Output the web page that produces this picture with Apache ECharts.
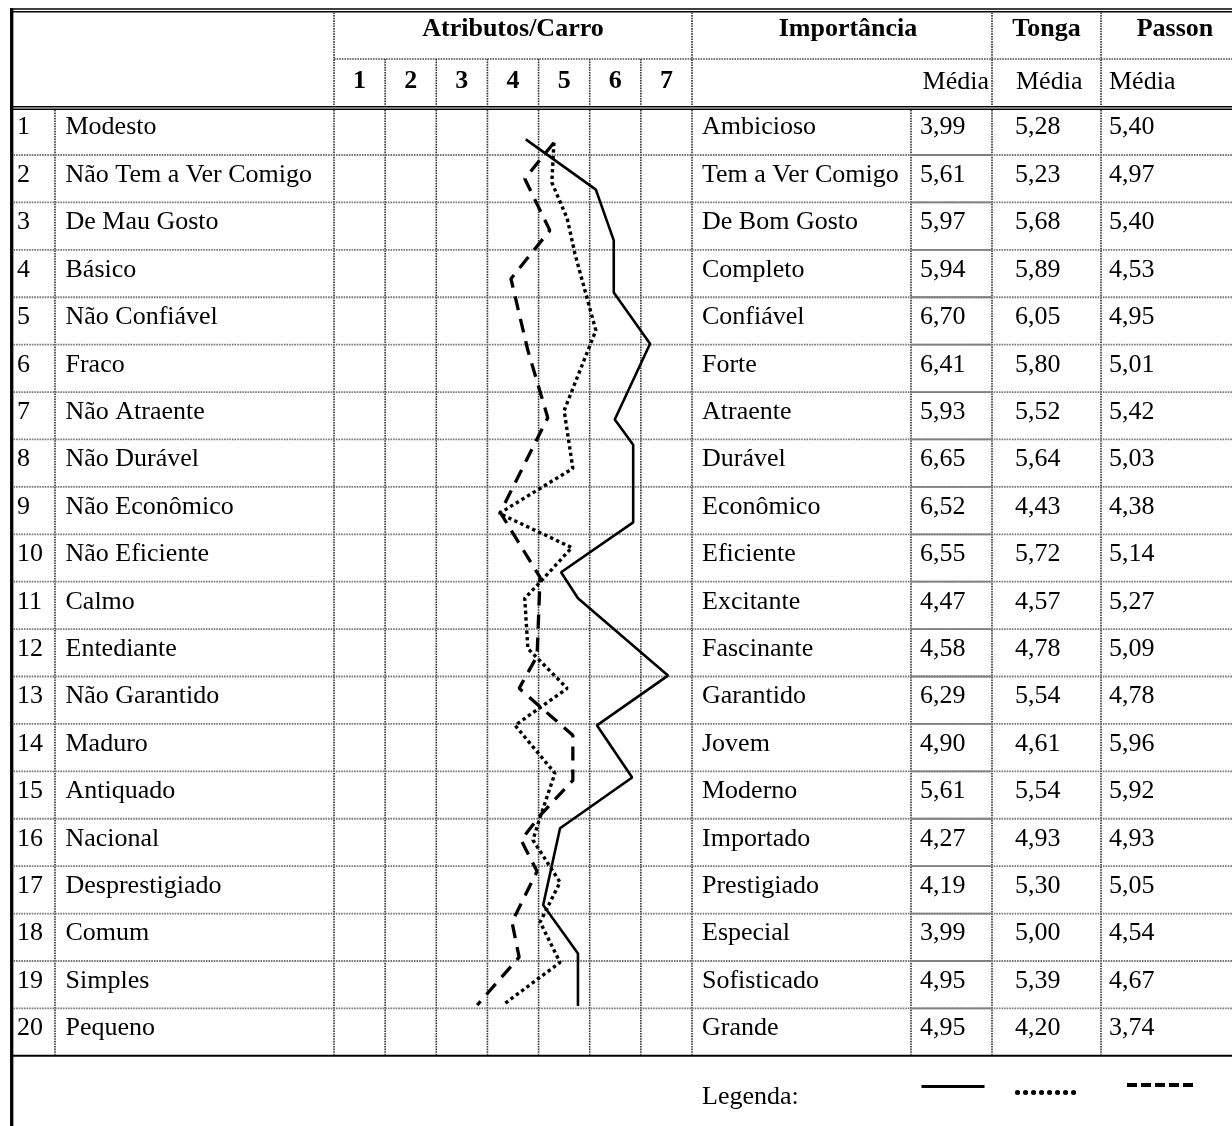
<!DOCTYPE html>
<html>
<head>
    <meta charset="utf-8">
    <title>Atributos/Carro</title>
    <script src="https://cdn.jsdelivr.net/npm/echarts@6/dist/echarts.min.js"></script>
    <style>
        html, body { margin: 0; padding: 0; background: #fff; }
        #chart { width: 1232px; height: 1126px; }
    </style>
</head>
<body>
    <div id="chart"></div>

    <script>
        // table data
        const rowNumbers = [1, 2, 3, 4, 5, 6, 7, 8, 9, 10, 11, 12, 13, 14, 15, 16, 17, 18, 19, 20];
        const leftAttrs = ['Modesto', 'Não Tem a Ver Comigo', 'De Mau Gosto', 'Básico', 'Não Confiável', 'Fraco',
            'Não Atraente', 'Não Durável', 'Não Econômico', 'Não Eficiente', 'Calmo', 'Entediante', 'Não Garantido',
            'Maduro', 'Antiquado', 'Nacional', 'Desprestigiado', 'Comum', 'Simples', 'Pequeno'];
        const rightAttrs = ['Ambicioso', 'Tem a Ver Comigo', 'De Bom Gosto', 'Completo', 'Confiável', 'Forte',
            'Atraente', 'Durável', 'Econômico', 'Eficiente', 'Excitante', 'Fascinante', 'Garantido',
            'Jovem', 'Moderno', 'Importado', 'Prestigiado', 'Especial', 'Sofisticado', 'Grande'];
        const importancia = [3.99, 5.61, 5.97, 5.94, 6.70, 6.41, 5.93, 6.65, 6.52, 6.55, 4.47, 4.58, 6.29, 4.90, 5.61, 4.27, 4.19, 3.99, 4.95, 4.95];
        const tonga = [5.28, 5.23, 5.68, 5.89, 6.05, 5.80, 5.52, 5.64, 4.43, 5.72, 4.57, 4.78, 5.54, 4.61, 5.54, 4.93, 5.30, 5.00, 5.39, 4.20];
        const passon = [5.40, 4.97, 5.40, 4.53, 4.95, 5.01, 5.42, 5.03, 4.38, 5.14, 5.27, 5.09, 4.78, 5.96, 5.92, 4.93, 5.05, 4.54, 4.67, 3.74];
        const scaleTicks = ['1', '2', '3', '4', '5', '6', '7'];

        // profile lines as drawn: [scale value, row position]
        const importanciaLine = [[4.25, 1.17], [5.62, 2.23], [5.97, 3.30], [5.97, 4.40], [6.68, 5.48], [5.99, 7.08],
            [6.35, 7.61], [6.35, 9.25], [4.94, 10.30], [5.27, 10.85], [7.03, 12.48], [5.64, 13.53], [6.33, 14.63],
            [4.92, 15.70], [4.59, 17.32], [5.27, 18.34], [5.27, 19.45]];
        const tongaLine = [[4.80, 1.24], [4.76, 2.08], [5.06, 2.84], [5.21, 3.58], [5.62, 5.20], [5.00, 6.89],
            [5.17, 8.11], [3.73, 9.06], [5.15, 9.78], [4.47, 10.58], [4.23, 10.85], [4.29, 11.91], [5.06, 12.75],
            [4.04, 13.53], [4.82, 14.54], [4.53, 15.47], [4.39, 15.95], [4.92, 16.84], [4.53, 17.68], [4.92, 18.53],
            [3.80, 19.43]];
        const passonLine = [[4.80, 1.24], [4.23, 2.00], [4.72, 3.09], [3.96, 4.11], [4.29, 5.62], [4.68, 7.04],
            [3.75, 9.04], [4.53, 10.41], [4.47, 12.07], [4.12, 12.75], [5.17, 13.74], [5.17, 14.69], [4.53, 15.43],
            [4.16, 15.95], [4.47, 16.61], [3.98, 17.68], [4.12, 18.42], [3.30, 19.43]];

        // layout of the table (page units)
        const L = {
            left: 11.7, numEdge: 55, attrEdge: 334, scaleEdge: 692, impEdge: 911, tongaEdge: 992,
            passonEdge: 1101, right: 1232, headMid: 59, bodyTop: 107.6, rowH: 47.41
        };
        const bodyBottom = L.bodyTop + 20 * L.rowH;
        const colW = (L.scaleEdge - L.attrEdge) / 7;
        const FONT = '"Liberation Serif", "Times New Roman", serif';
        const SX = 1.04;

        const fmt = v => v.toFixed(2).replace('.', ',');

        function txt(api, x, y, s, align, bold) {
            const p = api.coord([x, y]);
            return {
                type: 'text', x: p[0], y: p[1], scaleX: SX,
                style: {
                    text: s, fill: '#000', fontFamily: FONT, fontSize: 25,
                    fontWeight: bold ? 'bold' : 'normal', align: align || 'left', verticalAlign: 'middle'
                }
            };
        }
        function seg(api, x1, y1, x2, y2, style) {
            const a = api.coord([x1, y1]);
            const b = api.coord([x2, y2]);
            return { type: 'line', shape: { x1: a[0], y1: a[1], x2: b[0], y2: b[1] }, style: style };
        }
        const black = w => ({ stroke: '#000', lineWidth: w });
        const dotGray = { stroke: '#777', lineWidth: 1.8, lineDash: [1.6, 1] };
        const dotDark = { stroke: '#333', lineWidth: 1.6, lineDash: [1.6, 1] };

        function renderFrame(params, api) {
            const c = [];
            // outer borders
            c.push(seg(api, 10, 9, L.right, 9, black(1.4)));
            c.push(seg(api, 10, 11.8, L.right, 11.8, black(1.4)));
            c.push(seg(api, L.left, 8.3, L.left, 1126, black(3.3)));
            c.push(seg(api, L.attrEdge, L.headMid, L.right, L.headMid, dotGray));
            c.push(seg(api, 10, 106.7, L.right, 106.7, black(1.4)));
            c.push(seg(api, 10, 109.2, L.right, 109.2, black(1.4)));
            c.push(seg(api, 10, bodyBottom, L.right, bodyBottom, black(2)));
            // header verticals
            [L.attrEdge, L.scaleEdge, L.tongaEdge, L.passonEdge].forEach(x => c.push(seg(api, x, 12.5, x, 106, dotDark)));
            for (let k = 1; k < 7; k++) {
                const x = L.attrEdge + k * colW;
                c.push(seg(api, x, L.headMid, x, 106, dotDark));
            }
            // body verticals
            const bodyCols = [L.numEdge, L.attrEdge, L.scaleEdge, L.impEdge, L.tongaEdge, L.passonEdge];
            for (let k = 1; k < 7; k++) bodyCols.push(L.attrEdge + k * colW);
            bodyCols.forEach(x => c.push(seg(api, x, 110, x, bodyBottom - 1, dotDark)));
            // header text
            c.push(txt(api, (L.attrEdge + L.scaleEdge) / 2, 29.8, 'Atributos/Carro', 'center', true));
            c.push(txt(api, 848, 29.8, 'Importância', 'center', true));
            c.push(txt(api, (L.tongaEdge + L.passonEdge) / 2, 29.8, 'Tonga', 'center', true));
            c.push(txt(api, 1175, 29.8, 'Passon', 'center', true));
            scaleTicks.forEach((t, k) => c.push(txt(api, L.attrEdge + (k + 0.5) * colW, 82, t, 'center', true)));
            c.push(txt(api, 989, 82, 'Média', 'right'));
            c.push(txt(api, 1016, 82, 'Média', 'left'));
            c.push(txt(api, 1109, 82, 'Média', 'left'));
            c.push(txt(api, 702, 1097, 'Legenda:', 'left'));
            return { type: 'group', children: c };
        }

        function renderRow(params, api) {
            const i = params.dataIndex;
            const top = L.bodyTop + i * L.rowH;
            const mid = top + 20.3;
            const c = [];
            if (i < 19) {
                const y = top + L.rowH;
                c.push(seg(api, 13.5, y, L.right, y, dotGray));
                c.push(seg(api, L.impEdge, y, L.tongaEdge, y, { stroke: '#808080', lineWidth: 1.8 }));
            }
            c.push(txt(api, 17, mid, String(rowNumbers[i])));
            c.push(txt(api, 65.5, mid, leftAttrs[i]));
            c.push(txt(api, 702, mid, rightAttrs[i]));
            c.push(txt(api, 920, mid, fmt(importancia[i])));
            c.push(txt(api, 1015, mid, fmt(tonga[i])));
            c.push(txt(api, 1109, mid, fmt(passon[i])));
            return { type: 'group', children: c };
        }

        const chart = echarts.init(document.getElementById('chart'), null, { renderer: 'canvas' });

        const legendBase = {
            padding: 0, itemGap: 0, selectedMode: false, formatter: () => '',
            itemStyle: { color: 'transparent', borderColor: 'transparent', borderWidth: 0, opacity: 0 }
        };

        chart.setOption({
            animation: false,
            backgroundColor: '#fff',
            grid: [
                { left: 0, top: 0, width: 1232, height: 1126, show: false },
                { left: L.attrEdge, top: L.bodyTop, width: L.scaleEdge - L.attrEdge, height: bodyBottom - L.bodyTop, show: false }
            ],
            xAxis: [
                { gridIndex: 0, type: 'value', min: 0, max: 1232, show: false },
                { gridIndex: 1, type: 'value', min: 0.5, max: 7.5, show: false }
            ],
            yAxis: [
                { gridIndex: 0, type: 'value', min: 0, max: 1126, inverse: true, show: false },
                { gridIndex: 1, type: 'value', min: 0.5, max: 20.5, inverse: true, show: false }
            ],
            legend: [
                Object.assign({}, legendBase, {
                    data: ['Importância'], left: 920, top: 1082.5, itemWidth: 63, itemHeight: 8,
                    lineStyle: { width: 3, type: 'solid', color: '#000' }
                }),
                Object.assign({}, legendBase, {
                    data: ['Tonga'], left: 1015, top: 1088.5, itemWidth: 64, itemHeight: 8,
                    lineStyle: { width: 5, type: [0.1, 7.9], cap: 'round', color: '#000' }
                }),
                Object.assign({}, legendBase, {
                    data: ['Passon'], left: 1125, top: 1081, itemWidth: 66, itemHeight: 8,
                    lineStyle: { width: 4, type: [10, 4], color: '#000' }
                })
            ],
            series: [
                {
                    type: 'custom', name: 'moldura', xAxisIndex: 0, yAxisIndex: 0, z: 1,
                    data: [[0, 0]], renderItem: renderFrame, silent: true
                },
                {
                    type: 'custom', name: 'linhas', xAxisIndex: 0, yAxisIndex: 0, z: 1,
                    data: rowNumbers.map(n => [n, n]), renderItem: renderRow, silent: true
                },
                {
                    type: 'line', name: 'Importância', xAxisIndex: 1, yAxisIndex: 1, z: 5,
                    data: importanciaLine, symbol: 'none', color: '#000',
                    lineStyle: { color: '#000', width: 2.6, type: 'solid' }
                },
                {
                    type: 'line', name: 'Tonga', xAxisIndex: 1, yAxisIndex: 1, z: 5,
                    data: tongaLine, symbol: 'none', color: '#000',
                    lineStyle: { color: '#000', width: 3.4, type: [3.4, 3.2] }
                },
                {
                    type: 'line', name: 'Passon', xAxisIndex: 1, yAxisIndex: 1, z: 5,
                    data: passonLine, symbol: 'none', color: '#000',
                    lineStyle: { color: '#000', width: 3.3, type: [14, 9] }
                }
            ]
        });
    </script>
</body>
</html>
